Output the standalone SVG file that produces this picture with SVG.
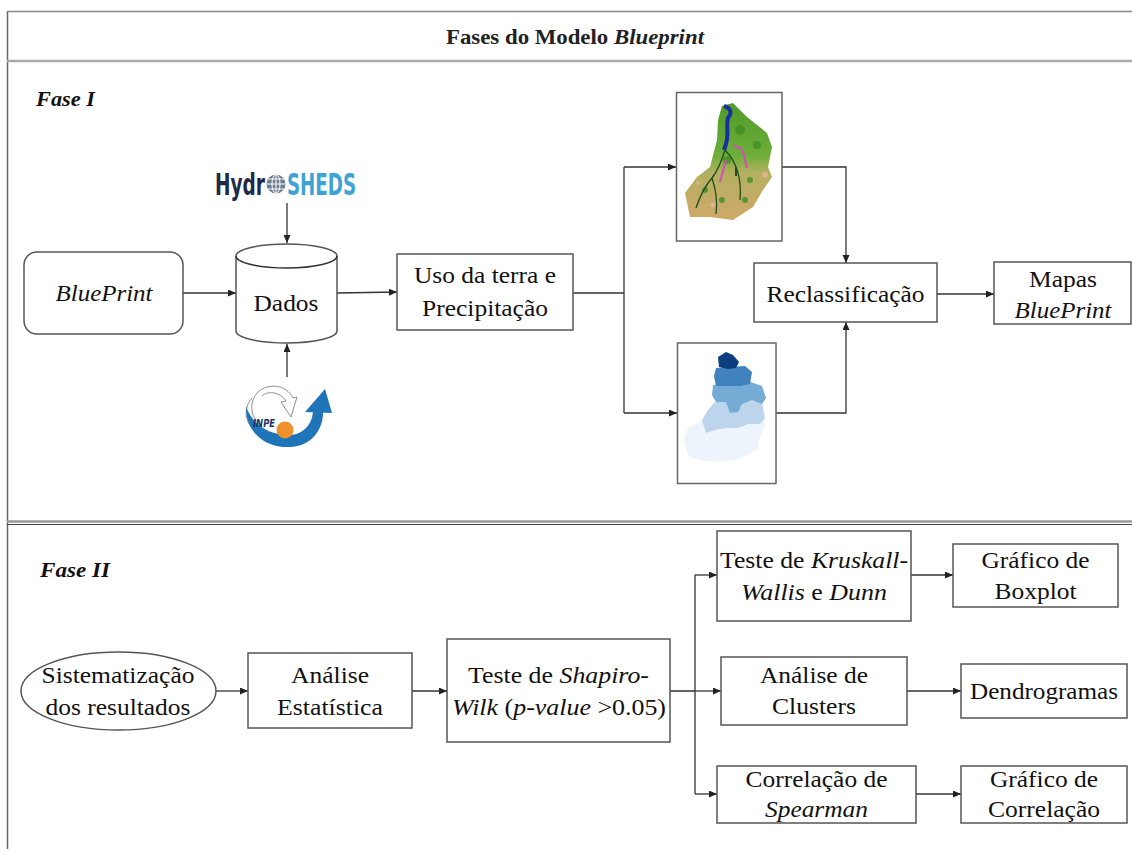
<svg xmlns="http://www.w3.org/2000/svg" width="1132" height="849" viewBox="0 0 1132 849">
<defs>
<style>
.box{fill:#fff;stroke:#555;stroke-width:1.5}
.t{font-family:Liberation Serif, Tinos, Nimbus Roman, FreeSerif, Noto Serif, DejaVu Serif, Times, serif;font-size:23px;fill:#111;text-anchor:middle}
.i{font-style:italic}
.lbl{font-family:Liberation Serif, Tinos, Nimbus Roman, FreeSerif, Noto Serif, DejaVu Serif, Times, serif;font-size:20px;font-weight:bold;font-style:italic;fill:#111}
.ttl{font-family:Liberation Serif, Tinos, Nimbus Roman, FreeSerif, Noto Serif, DejaVu Serif, Times, serif;font-size:21px;font-weight:bold;fill:#222;text-anchor:middle}
.c{fill:none;stroke:#333;stroke-width:1.3}
.a{marker-end:url(#ah)}
.frame{fill:none;stroke:#666;stroke-width:1.5}
</style>
<marker id="ah" markerUnits="userSpaceOnUse" markerWidth="9" markerHeight="8" refX="8" refY="3.5" orient="auto">
<path d="M0,0 L8,3.5 L0,7 z" fill="#222"/>
</marker>
<linearGradient id="lu" x1="0" y1="0" x2="0" y2="1">
<stop offset="0" stop-color="#4f9a2a"/>
<stop offset="0.45" stop-color="#6fae3a"/>
<stop offset="0.6" stop-color="#b4b060"/>
<stop offset="1" stop-color="#cfa868"/>
</linearGradient>
</defs>
<rect width="1132" height="849" fill="#fff"/>

<g id="frame">
<line x1="7.5" y1="11" x2="7.5" y2="849" class="frame"/>
<line x1="7" y1="11.5" x2="1132" y2="11.5" stroke="#888" stroke-width="1.5"/>
<line x1="7" y1="61" x2="1132" y2="61" stroke="#aaa" stroke-width="2.5"/>
<line x1="7" y1="521.5" x2="1132" y2="521.5" stroke="#999" stroke-width="2.5"/>
<line x1="7" y1="524.5" x2="1132" y2="524.5" stroke="#444" stroke-width="1"/>
<text x="575" y="44" class="ttl" textLength="258" lengthAdjust="spacingAndGlyphs">Fases do Modelo <tspan font-style="italic">Blueprint</tspan></text>
<text x="36" y="106" class="lbl" textLength="59" lengthAdjust="spacingAndGlyphs">Fase I</text>
<text x="40" y="577" class="lbl" textLength="70" lengthAdjust="spacingAndGlyphs">Fase II</text>
</g>

<g id="connectors">
<path class="c a" d="M287,203 V243"/>
<path class="c a" d="M287,377 V344"/>
<path class="c a" d="M183,293 H236"/>
<path class="c a" d="M337,293 L397,292"/>
<path class="c" d="M573,293 H624 M624,167 V413"/>
<path class="c a" d="M624,167 H676"/>
<path class="c a" d="M624,413 H677"/>
<path class="c a" d="M782,167 H846 V263"/>
<path class="c a" d="M776,413 H846 V322"/>
<path class="c a" d="M937,294 H994"/>
<path class="c a" d="M216,691 H248"/>
<path class="c a" d="M412,691 H447"/>
<path class="c" d="M670,691 H695 M695,575 V794"/>
<path class="c a" d="M695,575 H717"/>
<path class="c a" d="M695,691 H721"/>
<path class="c a" d="M695,794 H717"/>
<path class="c a" d="M911,575 H953"/>
<path class="c a" d="M907,691 H961"/>
<path class="c a" d="M916,794 H961"/>
</g>

<g id="hydrosheds">
<text x="215" y="195" font-family="'DejaVu Sans Condensed','DejaVu Sans',sans-serif" font-weight="bold" font-size="31" fill="#1e2a48" textLength="50" lengthAdjust="spacingAndGlyphs">Hydr</text>
<circle cx="276" cy="184" r="9.5" fill="#6d7f92"/>
<g fill="none" stroke="#fff" stroke-width="1">
<ellipse cx="276" cy="184" rx="4" ry="9.5"/>
<line x1="266.5" y1="184" x2="285.5" y2="184"/>
<line x1="276" y1="174.5" x2="276" y2="193.5"/>
<line x1="268" y1="179" x2="284" y2="179"/>
<line x1="268" y1="189" x2="284" y2="189"/>
</g>
<text x="287" y="195" font-family="'DejaVu Sans Condensed','DejaVu Sans',sans-serif" font-weight="bold" font-size="31" fill="#3ea3d2" textLength="69" lengthAdjust="spacingAndGlyphs">SHEDS</text>
</g>

<g id="inpe">
<path d="M252,398 C240,412 248,430 262,434 M258,392 C247,404 252,420 262,426" fill="none" stroke="#8a9099" stroke-width="1"/>
<path d="M258,392 C268,383 286,384 293,398 L297,397 L291,417 L281,402 L286,401 C280,391 266,391 262,396" fill="#fff" stroke="#8a9099" stroke-width="1"/>
<path d="M246,406 C245,432 265,448 290,447 C311,446 324,430 323,410 L313,410 C313,424 303,435 289,435 C268,435 252,424 246,406 Z" fill="#1f75b8"/>
<polygon points="305,412 332,413 325,389" fill="#1f75b8"/>
<circle cx="285" cy="430" r="8.5" fill="#f0922b"/>
<text x="253" y="427" font-family="'DejaVu Sans','Liberation Sans',sans-serif" font-size="10" font-weight="bold" font-style="italic" fill="#1b2f5e" textLength="22" lengthAdjust="spacingAndGlyphs">INPE</text>
</g>

<g id="blueprint">
<rect x="24" y="252" width="159" height="82" rx="13" class="box"/>
<text x="104" y="301" class="t i" textLength="97" lengthAdjust="spacingAndGlyphs">BluePrint</text>
</g>

<g id="dados">
<path d="M236,256 A50.5,12 0 0 1 337,256 V331 A50.5,12 0 0 1 236,331 Z" class="box" stroke="#333"/>
<path d="M236,256 A50.5,12 0 0 0 337,256" fill="none" stroke="#333" stroke-width="1.5"/>
<text x="286" y="311" class="t" textLength="65" lengthAdjust="spacingAndGlyphs">Dados</text>
</g>

<g id="uso">
<rect x="397" y="254" width="176" height="76" class="box"/>
<text x="485" y="283" class="t" textLength="142" lengthAdjust="spacingAndGlyphs">Uso da terra e</text>
<text x="485" y="316" class="t" textLength="126" lengthAdjust="spacingAndGlyphs">Precipitação</text>
</g>

<g id="map-landuse">
<rect x="676.5" y="92.5" width="105.5" height="148.5" fill="#fff" stroke="#666" stroke-width="1.5"/>
<path d="M722,106 L733,103 L747,117 L767,133 L772,147 L768,167 L772,177 L763,190 L753,207 L733,220 L710,217 L690,217 L685,193 L697,177 L710,167 L717,140 L718,120 Z" fill="url(#lu)"/>
<g fill="#3f8f25" opacity="0.8">
<circle cx="740" cy="130" r="5"/><circle cx="757" cy="145" r="4"/><circle cx="727" cy="160" r="4"/><circle cx="750" cy="180" r="3"/><circle cx="705" cy="190" r="3"/><circle cx="722" cy="200" r="3"/><circle cx="745" cy="200" r="3"/>
</g>
<g fill="#e0b39a" opacity="0.9">
<circle cx="765" cy="175" r="3"/><circle cx="713" cy="205" r="2.5"/><circle cx="698" cy="183" r="2"/>
</g>
<path d="M724,106 C730,108 733,112 728,118 C726,126 729,134 726,144 L724,150" fill="none" stroke="#1630a0" stroke-width="4"/>
<path d="M725,150 C722,160 718,170 712,178 C705,186 700,196 696,208 M712,178 C716,190 718,200 716,214 M725,150 C735,160 742,175 740,200" fill="none" stroke="#1f4d1e" stroke-width="1.3"/>
<path d="M733,146 C740,146 744,150 745,160 L747,168 M726,160 C724,168 722,174 720,182" fill="none" stroke="#d24fb6" stroke-width="2"/>
<rect x="735" y="167" width="2" height="9" fill="#1f4d1e"/>
</g>

<g id="map-precip">
<rect x="677.5" y="343" width="98.5" height="140.5" fill="#fff" stroke="#666" stroke-width="1.5"/>
<path d="M688,428 L702,420 L712,410 L730,408 L748,410 L760,412 L765,425 L760,436 L758,448 L748,455 L735,460 L718,462 L700,460 L688,456 L684,440 Z" fill="#eef4fb"/>
<path d="M702,420 L708,410 L714,403 L722,398 L735,402 L750,396 L762,402 L765,418 L760,424 L748,424 L738,428 L726,428 L715,430 L706,433 Z" fill="#bcd5ec"/>
<path d="M713,385 L728,383 L745,380 L762,386 L766,398 L762,404 L752,400 L742,404 L738,412 L730,413 L726,402 L716,402 L712,395 Z" fill="#75acd6"/>
<path d="M716,368 L730,367 L745,366 L752,372 L750,384 L740,386 L728,386 L716,386 L714,376 Z" fill="#3f82be"/>
<path d="M718,357 L726,352 L733,355 L739,362 L736,368 L728,369 L719,367 Z" fill="#0c3d7e"/>
</g>

<g id="reclass">
<rect x="754" y="263" width="183" height="59" class="box"/>
<text x="845.5" y="302" class="t" textLength="158" lengthAdjust="spacingAndGlyphs">Reclassificação</text>
</g>

<g id="mapas">
<rect x="994" y="262" width="137" height="62" class="box"/>
<text x="1063" y="287" class="t" textLength="68" lengthAdjust="spacingAndGlyphs">Mapas</text>
<text x="1063" y="318" class="t i" textLength="97" lengthAdjust="spacingAndGlyphs">BluePrint</text>
</g>

<g id="sistematizacao">
<ellipse cx="118.5" cy="691" rx="97.5" ry="39" class="box"/>
<text x="118" y="683" class="t" textLength="153" lengthAdjust="spacingAndGlyphs">Sistematização</text>
<text x="118" y="715" class="t" textLength="145" lengthAdjust="spacingAndGlyphs">dos resultados</text>
</g>

<g id="analise">
<rect x="248" y="653" width="164" height="75" class="box"/>
<text x="330" y="683" class="t" textLength="78" lengthAdjust="spacingAndGlyphs">Análise</text>
<text x="330" y="715" class="t" textLength="106" lengthAdjust="spacingAndGlyphs">Estatística</text>
</g>

<g id="shapiro">
<rect x="447" y="639" width="223" height="103" class="box"/>
<text x="558.5" y="683" class="t" textLength="181" lengthAdjust="spacingAndGlyphs">Teste de <tspan class="i">Shapiro-</tspan></text>
<text x="559" y="715" class="t" textLength="214" lengthAdjust="spacingAndGlyphs"><tspan class="i">Wilk</tspan> (<tspan class="i">p-value</tspan> &gt;0.05)</text>
</g>

<g id="kruskall">
<rect x="717" y="531" width="194" height="90" class="box"/>
<text x="814" y="568" class="t" textLength="188" lengthAdjust="spacingAndGlyphs">Teste de <tspan class="i">Kruskall-</tspan></text>
<text x="814" y="600" class="t" textLength="146" lengthAdjust="spacingAndGlyphs"><tspan class="i">Wallis</tspan> e <tspan class="i">Dunn</tspan></text>
</g>

<g id="boxplot">
<rect x="953" y="544" width="165" height="63" class="box"/>
<text x="1035.5" y="568" class="t" textLength="108" lengthAdjust="spacingAndGlyphs">Gráfico de</text>
<text x="1035.5" y="599" class="t" textLength="82" lengthAdjust="spacingAndGlyphs">Boxplot</text>
</g>

<g id="clusters">
<rect x="721" y="657" width="186" height="68" class="box"/>
<text x="814" y="683" class="t" textLength="108" lengthAdjust="spacingAndGlyphs">Análise de</text>
<text x="814" y="714" class="t" textLength="84" lengthAdjust="spacingAndGlyphs">Clusters</text>
</g>

<g id="dendrogramas">
<rect x="961" y="664" width="166" height="54" class="box"/>
<text x="1044" y="699" class="t" textLength="148" lengthAdjust="spacingAndGlyphs">Dendrogramas</text>
</g>

<g id="spearman">
<rect x="717" y="766" width="199" height="57" class="box"/>
<text x="816.5" y="787" class="t" textLength="142" lengthAdjust="spacingAndGlyphs">Correlação de</text>
<text x="816.5" y="817" class="t i" textLength="103" lengthAdjust="spacingAndGlyphs">Spearman</text>
</g>

<g id="grafico-correlacao">
<rect x="961" y="766" width="166" height="57" class="box"/>
<text x="1044" y="787" class="t" textLength="108" lengthAdjust="spacingAndGlyphs">Gráfico de</text>
<text x="1044" y="817" class="t" textLength="112" lengthAdjust="spacingAndGlyphs">Correlação</text>
</g>
</svg>
